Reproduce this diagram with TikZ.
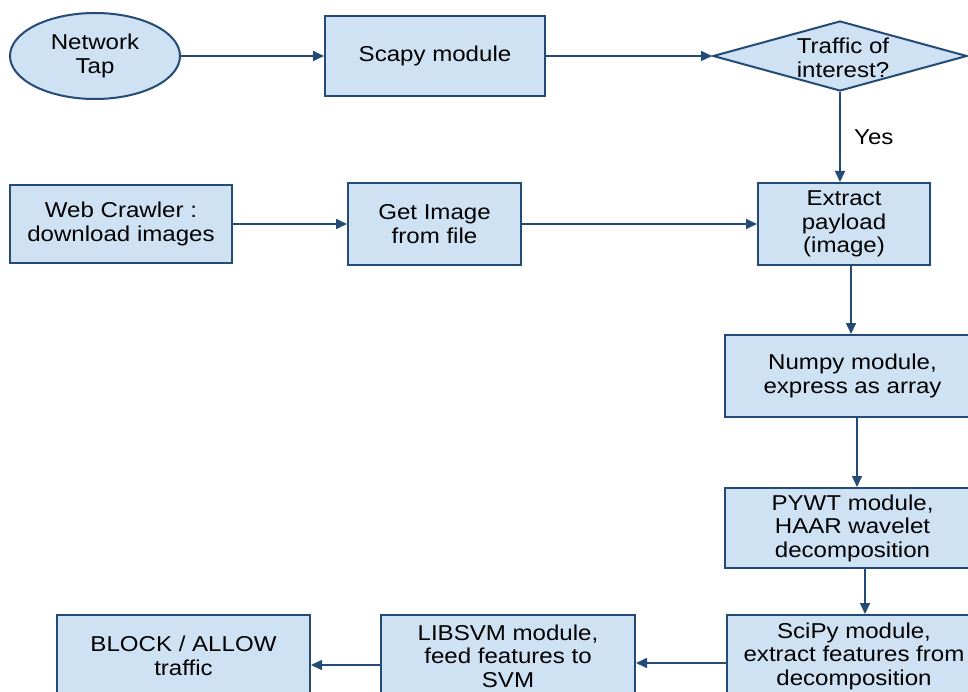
\documentclass[tikz,border=0pt]{standalone}
\usepackage{fontspec}
\setmainfont{Liberation Sans}[FakeStretch=1.12]
\usetikzlibrary{shapes.geometric,arrows.meta}
\definecolor{boxfill}{RGB}{207,226,243}
\definecolor{boxline}{RGB}{36,74,118}
\tikzset{
  base/.style={draw=boxline, fill=boxfill, line width=2pt, align=center,
    inner sep=0pt, font=\fontsize{21.5}{23.5}\selectfont},
  procbox/.style={base, rectangle, minimum width=#1},
  roundnode/.style={base, ellipse},
  arr/.style={draw=boxline, line width=1.6pt, -{Triangle[length=11pt,width=10pt]}}
}
\begin{document}
\begin{tikzpicture}[x=1pt,y=-1pt]
\useasboundingbox (0,0) rectangle (968,692);
\clip (0,0) rectangle (968,692);

% top row
\node[roundnode, minimum width=170, minimum height=86] (tap) at (95,56) {Network\\Tap};
\node[procbox=220, minimum height=80] (scapy) at (435,56) {Scapy module};
\node[base, diamond, minimum width=254, minimum height=70] (traffic) at (840,56) {};
\node[font=\fontsize{21.5}{23.5}\selectfont, align=center] (trafficlbl) at (843,58) {Traffic of\\interest?};

% second row
\node[procbox=222, minimum height=78] (crawler) at (121,224) {Web Crawler :\\download images};
\node[procbox=173, minimum height=82] (getimg) at (434.5,224) {Get Image\\from file};
\node[procbox=172, minimum height=82] (extract) at (844,224) {Extract\\payload\\(image)};

% right column
\node[procbox=255, minimum height=82] (numpy) at (852.5,376) {Numpy module,\\express as array};
\node[procbox=255, minimum height=80] (pywt) at (852.5,528) {PYWT module,\\HAAR wavelet\\decomposition};
\node[procbox=255, minimum height=82] (scipy) at (854,656) {SciPy module,\\extract features from\\decomposition};

% bottom row
\node[procbox=254, minimum height=82] (libsvm) at (508,656) {LIBSVM module,\\feed features to\\SVM};
\node[procbox=253, minimum height=82] (block) at (183.5,656) {BLOCK / ALLOW\\traffic};

% connectors
\draw[arr] (tap.east) -- (scapy.west);
\draw[arr] (scapy.east) -- (traffic.west);
\draw[arr] (traffic.south) -- (traffic.south |- extract.north)
  node[midway, right=10pt, font=\fontsize{21.5}{23.5}\selectfont] (yes) {Yes};
\draw[arr] (crawler.east) -- (getimg.west);
\draw[arr] (getimg.east) -- (extract.west);
\draw[arr] ([xshift=7pt]extract.south) -- ([xshift=7pt]extract.south |- numpy.north);
\draw[arr] ([xshift=4.5pt]numpy.south) -- ([xshift=4.5pt]numpy.south |- pywt.north);
\draw[arr] ([xshift=12.5pt]pywt.south) -- ([xshift=12.5pt]pywt.south |- scipy.north);
\draw[arr] ([yshift=-7pt]scipy.west) -- ([yshift=-7pt]scipy.west -| libsvm.east);
\draw[arr] ([yshift=-9pt]libsvm.west) -- ([yshift=-9pt]libsvm.west -| block.east);
\end{tikzpicture}
\end{document}
